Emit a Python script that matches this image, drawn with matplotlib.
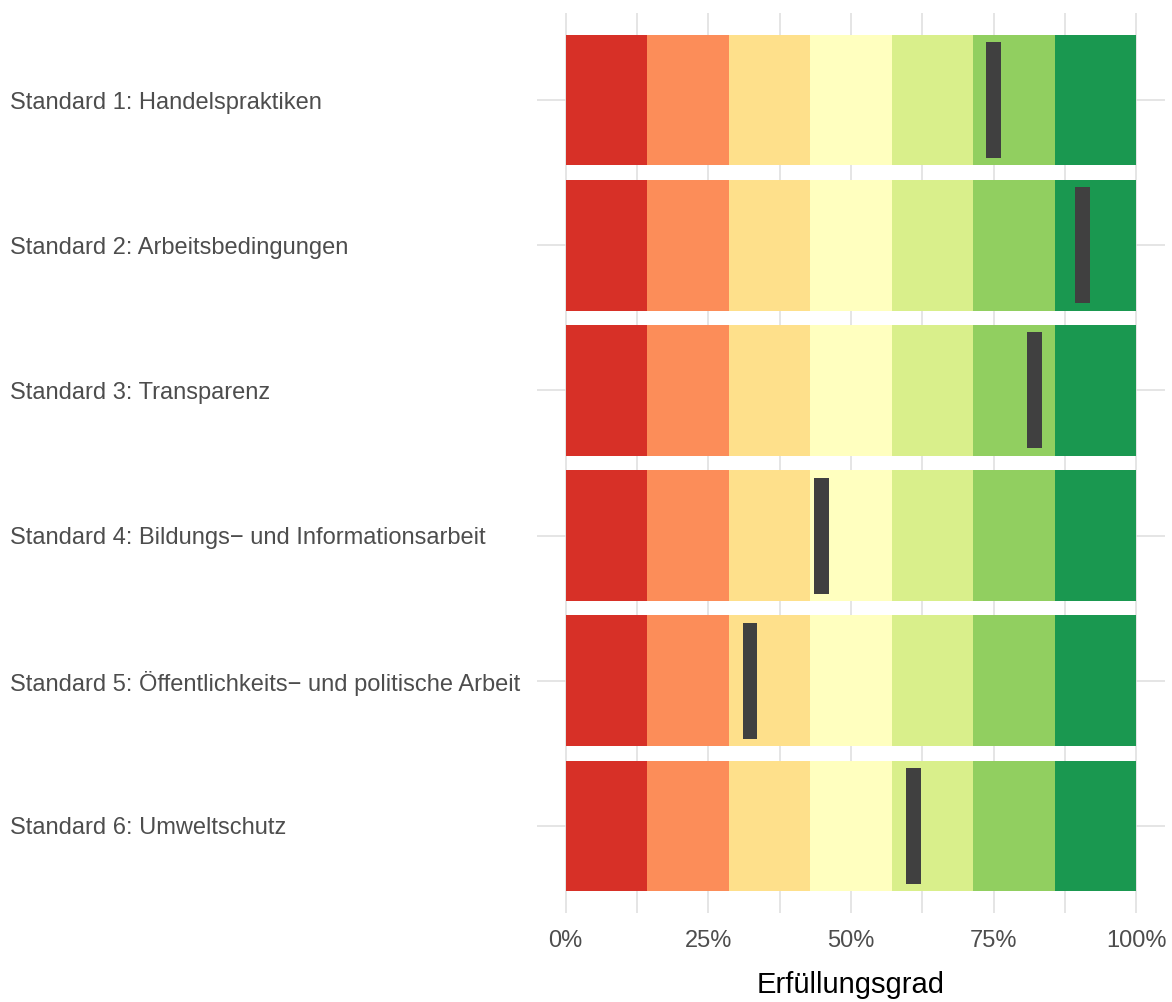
import numpy as np
import matplotlib
matplotlib.use("Agg")
import matplotlib.pyplot as plt

plt.rcParams['font.family'] = ['Liberation Sans', 'DejaVu Sans']

standards = ["Standard 1: Handelspraktiken",
             "Standard 2: Arbeitsbedingungen",
             "Standard 3: Transparenz",
             "Standard 4: Bildungs\u2212 und Informationsarbeit",
             "Standard 5: \u00d6ffentlichkeits\u2212 und politische Arbeit",
             "Standard 6: Umweltschutz"]
erfuellung = [0.750, 0.906, 0.822, 0.449, 0.323, 0.610]
band_colors = ["#d73027", "#fc8d59", "#fee08b", "#ffffbf", "#d9ef8b", "#91cf60", "#1a9850"]
x_ticks = [0, 0.25, 0.5, 0.75, 1.0]
x_labels = ["0%", "25%", "50%", "75%", "100%"]

fig = plt.figure(figsize=(11.72, 10.02), dpi=100)
ax = fig.add_axes([537/1172, 1 - 913/1002, (1165-537)/1172, 900/1002])

n = len(standards)
ypos = np.arange(n, 0, -1)
nb = len(band_colors)

# background bands
for i, c in enumerate(band_colors):
    ax.barh(ypos, 1/nb, left=i/nb, height=0.9, color=c, zorder=2, linewidth=0)

# marker bars
mw = 0.026
ax.barh(ypos, mw, left=np.array(erfuellung) - mw/2, height=0.8,
        color="#404040", zorder=3, linewidth=0)

ax.set_xlim(-0.05, 1.05)
ax.set_ylim(0.4, n + 0.6)
ax.set_xticks(x_ticks)
ax.set_xticklabels(x_labels)
ax.set_xticks(np.arange(0.125, 1, 0.25), minor=True)
ax.set_yticks(ypos)
ax.set_yticklabels(standards)

ax.grid(which='major', color='#dedede', linewidth=1.1, zorder=0)
ax.grid(which='minor', axis='x', color='#dedede', linewidth=1.1, zorder=0)
ax.set_axisbelow(True)
for s in ax.spines.values():
    s.set_visible(False)

ax.tick_params(axis='both', which='both', length=0, labelcolor='#4d4d4d', labelsize=17)
ax.tick_params(axis='x', pad=12)
ax.tick_params(axis='y', pad=(537 - 10) * 0.72)
for lab in ax.get_yticklabels():
    lab.set_ha('left')

ax.set_xlabel("Erf\u00fcllungsgrad", fontsize=21, color='black', labelpad=14)

fig.savefig("out.png", dpi=100)
